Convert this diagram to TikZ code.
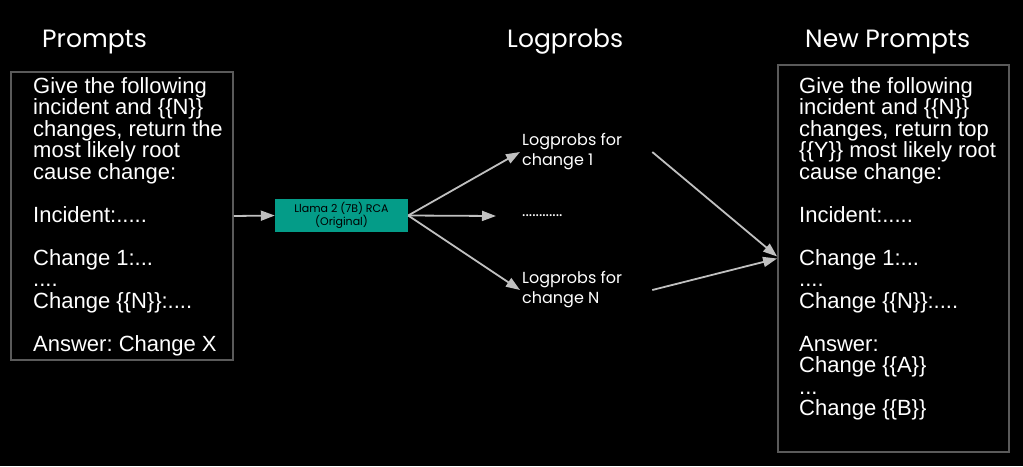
\documentclass[tikz,border=0pt]{standalone}
\usepackage{fontspec}
\setmainfont{Liberation Sans}
\newfontfamily\headfont{Poppins}
\usetikzlibrary{arrows.meta,positioning}
\definecolor{bggray}{HTML}{5A5A5A}
\definecolor{arrgray}{HTML}{C0C0C0}
\definecolor{llamateal}{HTML}{049C88}
\frenchspacing

\begin{document}
\begin{tikzpicture}[x=1pt,y=-1pt,
  frame/.style={rectangle,draw=bggray,line width=1.8pt,inner sep=0pt},
  prompt/.style={anchor=north west,inner sep=0pt,text=white,align=left,
                 font=\fontsize{22}{21.5}\selectfont},
  head/.style={anchor=base west,inner sep=0pt,text=white,
               font=\headfont\fontsize{25}{28}\selectfont},
  lp/.style={anchor=west,inner sep=2pt,text=white,align=left,
             font=\headfont\fontsize{16}{20}\selectfont},
  arr/.style={-{Triangle[length=14pt,width=10pt]},draw=arrgray,line width=1.8pt}
]
  \useasboundingbox[fill=black] (0,0) rectangle (1023,466);

  % ---- Column titles -----------------------------------------
  \node[head] (ttlprompts) at (42,47) {Prompts};
  \node[head] (ttllogprobs) at (507,47) {Logprobs};
  \node[head] (ttlnew) at (805,47) {New Prompts};

  % ---- Left: original prompt ---------------------------------
  \node[frame,minimum width=222pt,minimum height=288pt] (prompts) at (122,216) {};
  \node[prompt] (promptstext) at (33,77)
    {Give the following\\ incident and \{\{N\}\}\\ changes, return the\\
     most likely root\\ cause change:\\[21.5pt]
     Incident:.....\\[21.5pt]
     Change 1:...\\ ....\\ Change \{\{N\}\}:....\\[21.5pt]
     Answer: Change X};

  % ---- Model -------------------------------------------------
  \node[rectangle,fill=llamateal,minimum width=133pt,minimum height=33pt,
        align=center,font=\headfont\fontsize{11}{12}\selectfont] (llama) at (341.5,215.5)
    {Llama 2 (7B) RCA\\ (Original)};

  % ---- Logprobs ----------------------------------------------
  \node[lp] (lp1) at (520,152) {Logprobs for\\ change 1};
  \node[lp] (lpdots) at (520,216) {............};
  \node[lp] (lpn) at (520,290) {Logprobs for\\ change N};

  % ---- Right: new prompt -------------------------------------
  \node[frame,minimum width=231pt,minimum height=387pt] (newprompts) at (893.5,258.5) {};
  \node[prompt] (newtext) at (799,77)
    {Give the following\\ incident and \{\{N\}\}\\ changes, return top\\
     \{\{Y\}\} most likely root\\ cause change:\\[21.5pt]
     Incident:.....\\[21.5pt]
     Change 1:...\\ ....\\ Change \{\{N\}\}:....\\[21.5pt]
     Answer:\\ Change \{\{A\}\}\\ ...\\ Change \{\{B\}\}};

  % ---- Arrows ------------------------------------------------
  \draw[arr] (prompts.east) -- (llama.west);
  \draw[arr] (llama.east) -- (lp1.west);
  \draw[arr] (llama.east) -- ([xshift=-24pt]lpdots.west);
  \draw[arr] (llama.east) -- (lpn.west);
  \draw[arr] ([xshift=28pt]lp1.east) -- ([yshift=2pt]newprompts.west);
  \draw[arr] ([xshift=28pt]lpn.east) -- (newprompts.west);

\end{tikzpicture}
\end{document}
